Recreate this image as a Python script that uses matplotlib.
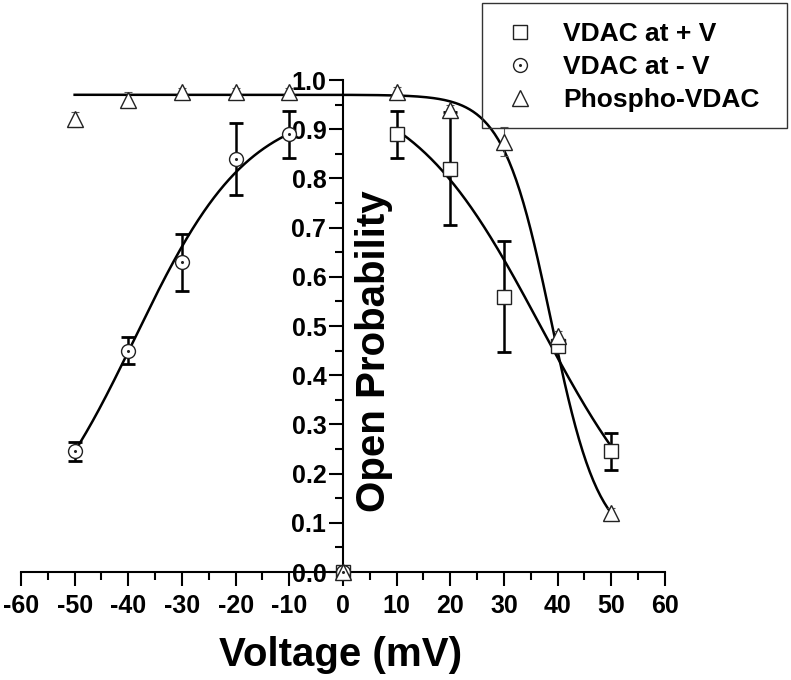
import numpy as np
import matplotlib.pyplot as plt
from matplotlib.ticker import MultipleLocator, FormatStrFormatter
from matplotlib.legend_handler import HandlerTuple
from matplotlib.patches import Rectangle

plt.rcParams['font.family'] = ['Liberation Sans', 'DejaVu Sans']
plt.rcParams['font.weight'] = 'bold'
plt.rcParams['axes.unicode_minus'] = False

# measured points
volt_pos = [0, 10, 20, 30, 40, 50]
open_pos = [0.0, 0.89, 0.82, 0.56, 0.46, 0.245]
err_pos = [0.0, 0.048, 0.115, 0.113, 0.012, 0.037]

volt_neg = [-50, -40, -30, -20, -10, 0]
open_neg = [0.245, 0.45, 0.63, 0.84, 0.89, 0.0]
err_neg = [0.02, 0.027, 0.058, 0.073, 0.048, 0.0]

volt_pho = [-50, -40, -30, -20, -10, 0, 10, 20, 30, 40, 50]
open_pho = [0.92, 0.96, 0.975, 0.975, 0.975, 0.0, 0.975, 0.94, 0.875, 0.48, 0.12]
err_pho = [0.015, 0.015, 0.008, 0.008, 0.008, 0.0, 0.01, 0.01, 0.03, 0.01, 0.01]

# Boltzmann fit parameters (Pmin, Pmax, V0, k, start, end)
fit_pos = [0.0, 1.0, 36.8, 12.3, 10, 50]
fit_neg = [0.0, 0.95, -38.8, -10.6, -50, -10]
fit_pho = [0.05, 0.97, 38.8, 4.47, -50, 50]


def boltzmann(p):
    v = np.linspace(p[4], p[5], 300)
    return v, p[0] + (p[1] - p[0]) / (1 + np.exp((v - p[2]) / p[3]))


fig = plt.figure(figsize=(7.91, 6.8), dpi=100)
ax = fig.add_axes([0.0265, 0.1588, 0.8142, 0.7235])

for p in [fit_pos, fit_neg, fit_pho]:
    v, y = boltzmann(p)
    ax.plot(v, y, color='black', lw=1.8, zorder=2)

ax.errorbar(volt_pho, open_pho, yerr=err_pho, fmt='none', ecolor='#555555',
            elinewidth=0.8, capsize=3, capthick=0.8, zorder=3)
ax.errorbar(volt_pos, open_pos, yerr=err_pos, fmt='none', ecolor='black',
            elinewidth=1.8, capsize=5, capthick=2, zorder=3)
ax.errorbar(volt_neg, open_neg, yerr=err_neg, fmt='none', ecolor='black',
            elinewidth=1.8, capsize=5, capthick=2, zorder=3)

mk = dict(ls='none', mfc='white', mec='#222222', mew=1.0, clip_on=False, zorder=4)
h_sq, = ax.plot(volt_pos, open_pos, marker='s', ms=9.5, **mk)
h_ci, = ax.plot(volt_neg, open_neg, marker='o', ms=10, **mk)
h_dot, = ax.plot(volt_neg, open_neg, ls='none', marker='o', ms=1.2, color='#222222',
                 clip_on=False, zorder=5)
h_tr, = ax.plot(volt_pho, open_pho, marker='^', ms=11, **mk)

ax.set_xlim(-60, 60)
ax.set_ylim(0, 1.0)
ax.spines['left'].set_position(('data', 0))
ax.spines['bottom'].set_position(('data', 0))
ax.spines['top'].set_visible(False)
ax.spines['right'].set_visible(False)
for s in ['left', 'bottom']:
    ax.spines[s].set_linewidth(1.5)

ax.xaxis.set_major_locator(MultipleLocator(10))
ax.xaxis.set_minor_locator(MultipleLocator(5))
ax.yaxis.set_major_locator(MultipleLocator(0.1))
ax.yaxis.set_minor_locator(MultipleLocator(0.05))
ax.yaxis.set_major_formatter(FormatStrFormatter('%.1f'))
ax.tick_params(which='major', direction='out', length=10, width=1.5, labelsize=18)
ax.tick_params(which='minor', direction='out', length=6, width=1.5)
ax.tick_params(axis='x', pad=6)
ax.tick_params(axis='y', pad=2)
for lab in ax.get_xticklabels() + ax.get_yticklabels():
    lab.set_fontweight('bold')

ax.text(5.8, 0.448, 'Open Probability', rotation=90, ha='center', va='center',
        fontsize=29, fontweight='bold')
fig.text(341 / 791, 1 - 655 / 680, 'Voltage (mV)', ha='center', va='center',
         fontsize=29, fontweight='bold')

# legend without its own frame, plus a box drawn where the original one sits
leg = fig.legend([h_sq, (h_ci, h_dot), h_tr],
                 ['VDAC at + V', 'VDAC at - V', 'Phospho-VDAC'],
                 handler_map={tuple: HandlerTuple(ndivide=1, pad=0)},
                 loc='upper left', bbox_to_anchor=(507 / 791, 1 - 22 / 680),
                 prop={'weight': 'bold', 'size': 19}, frameon=False,
                 borderpad=0, labelspacing=0.35, handlelength=1.0,
                 handletextpad=1.12, borderaxespad=0)
fig.add_artist(Rectangle((482 / 791, 1 - 128 / 680), 305 / 791, 125 / 680,
                         transform=fig.transFigure, fill=False,
                         ec='#333333', lw=1.0))

fig.savefig('out.png', dpi=100)
